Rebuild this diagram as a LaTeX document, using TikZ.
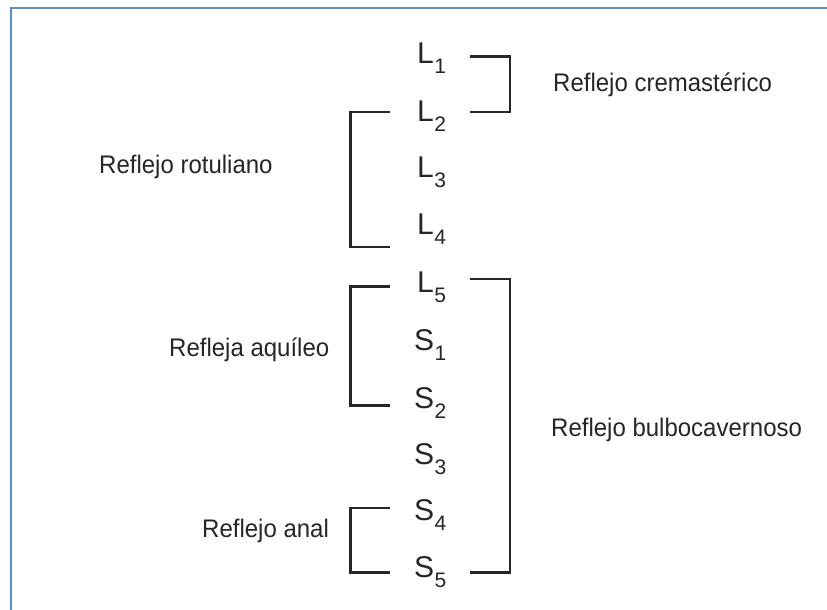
\documentclass[tikz,border=0pt]{standalone}
\usepackage{fontspec}
\setmainfont{Liberation Sans}
\definecolor{ink}{HTML}{262626}
\definecolor{frameblue}{HTML}{5B8BC9}
\newcommand{\seg}[2]{\fontsize{30}{30}\selectfont #1\kern0.5pt\raisebox{-10pt}{\fontsize{21}{21}\selectfont #2}}
\begin{document}
\begin{tikzpicture}[x=1pt,y=-1pt,
  seglabel/.style={anchor=base west,inner sep=0pt,text=ink},
  reflabel/.style={anchor=base west,inner sep=0pt,text=ink,font=\fontsize{24}{28}\selectfont},
  bracket/.style={draw=ink,line width=2.6pt,line join=miter}]
\useasboundingbox (0,0) rectangle (827,610);
\fill[white] (0,0) rectangle (827,610);
\draw[frameblue,line width=2pt] (11.3,612) -- (11.3,7.7) -- (829,7.7);
% segments
\node[seglabel] (L1) at (417,63.5) {\seg{L}{1}};
\node[seglabel] (L2) at (417,121) {\seg{L}{2}};
\node[seglabel] (L3) at (417,177) {\seg{L}{3}};
\node[seglabel] (L4) at (417,234) {\seg{L}{4}};
\node[seglabel] (L5) at (417,292) {\seg{L}{5}};
\node[seglabel] (S1) at (414,350) {\seg{S}{1}};
\node[seglabel] (S2) at (414,408) {\seg{S}{2}};
\node[seglabel] (S3) at (414,464) {\seg{S}{3}};
\node[seglabel] (S4) at (414,520) {\seg{S}{4}};
\node[seglabel] (S5) at (414,577) {\seg{S}{5}};
% reflex labels
\node[reflabel] (crem) at (553,92) {\scalebox{1}[1.06]{Reflejo cremastérico}};
\node[reflabel] (rot) at (99,173) {\scalebox{1}[1.06]{Reflejo rotuliano}};
\node[reflabel] (aqu) at (169,356) {\scalebox{1}[1.06]{Refleja aquíleo}};
\node[reflabel] (bulbo) at (551,436) {\scalebox{1}[1.06]{Reflejo bulbocavernoso}};
\node[reflabel] (anal) at (202,537) {\scalebox{1}[1.06]{Reflejo anal}};
% bracket corner coordinates
\coordinate (c1a) at (470,56.7); \coordinate (c1b) at (470,112);
\coordinate (r1a) at (390,112);  \coordinate (r1b) at (390,247);
\coordinate (a1a) at (390,286.7);\coordinate (a1b) at (390,405.7);
\coordinate (n1a) at (390,508);  \coordinate (n1b) at (390,572.7);
\coordinate (b1a) at (470,279);  \coordinate (b1b) at (470,572.7);
% brackets
\draw[bracket] (c1a) -- ++(40,0) |- (c1b);
\draw[bracket] (r1a) -- ++(-39.5,0) |- (r1b);
\draw[bracket] (a1a) -- ++(-39.5,0) |- (a1b);
\draw[bracket] (n1a) -- ++(-39.5,0) |- (n1b);
\draw[bracket] (b1a) -- ++(40,0) |- (b1b);
\end{tikzpicture}
\end{document}
